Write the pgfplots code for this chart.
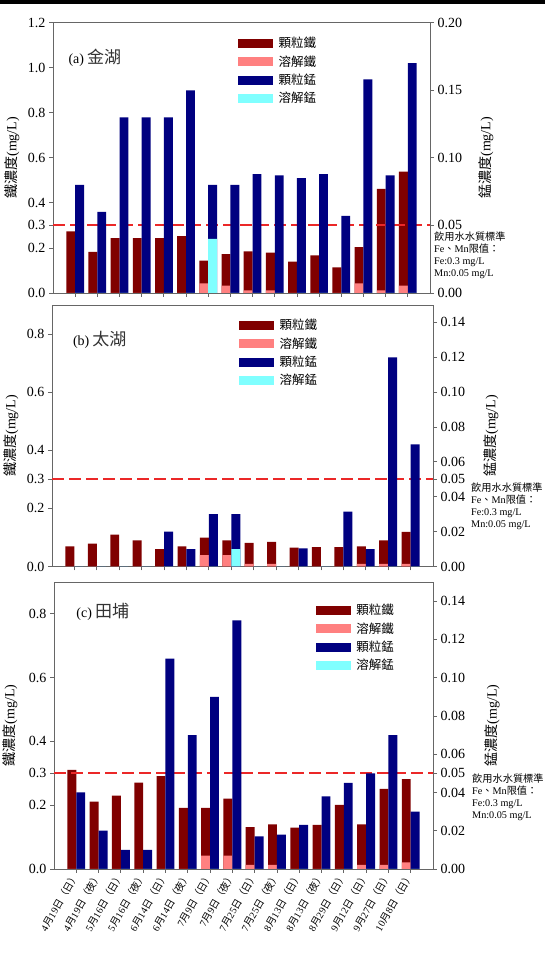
\documentclass[border=0pt]{standalone}
\usepackage{fontspec}
\setmainfont{Liberation Serif}
\newfontfamily\cjk{Noto Sans CJK TC}
\usepackage{pgfplots}
\usepackage{pgfplotstable}
\pgfplotsset{compat=1.18}
\definecolor{feP}{HTML}{800000}
\definecolor{feD}{HTML}{FF8080}
\definecolor{mnP}{HTML}{000080}
\definecolor{mnD}{HTML}{80FFFF}
\definecolor{limred}{RGB}{235,40,40}

% x = sampling (1..16); feT = total Fe (particulate+dissolved), feD = dissolved Fe
% mnT = total Mn, mnD = dissolved Mn
\pgfplotstableread{
x feT feD mnT mnD
1 0.273 0 0.080 0
2 0.182 0 0.060 0
3 0.243 0 0.130 0
4 0.243 0 0.130 0
5 0.243 0 0.130 0
6 0.252 0 0.150 0
7 0.144 0.043 0.080 0.040
8 0.172 0.033 0.080 0
9 0.185 0.012 0.088 0
10 0.179 0.012 0.087 0
11 0.139 0 0.085 0
12 0.167 0 0.088 0
13 0.114 0 0.057 0
14 0.204 0.043 0.158 0
15 0.462 0.012 0.087 0
16 0.539 0.033 0.170 0
}\dataA
\pgfplotstableread{
x feT feD mnT mnD
1 0.069 0 0 0
2 0.079 0 0 0
3 0.110 0 0 0
4 0.090 0 0 0
5 0.060 0 0.020 0
6 0.069 0 0.010 0
7 0.099 0.039 0.030 0
8 0.090 0.039 0.030 0.010
9 0.081 0.009 0 0
10 0.085 0.009 0 0
11 0.065 0 0.0104 0
12 0.067 0 0 0
13 0.067 0 0.0315 0
14 0.069 0.009 0.010 0
15 0.090 0.009 0.120 0
16 0.119 0.009 0.070 0
}\dataB
\pgfplotstableread{
x feT feD mnT mnD
1 0.311 0 0.040 0
2 0.211 0 0.020 0
3 0.230 0 0.010 0
4 0.271 0 0.010 0
5 0.291 0 0.110 0
6 0.192 0 0.070 0
7 0.192 0.042 0.090 0
8 0.221 0.042 0.130 0
9 0.131 0.013 0.017 0
10 0.140 0.013 0.018 0
11 0.130 0 0.023 0
12 0.138 0 0.038 0
13 0.201 0 0.045 0
14 0.140 0.013 0.050 0
15 0.251 0.013 0.070 0
16 0.282 0.021 0.030 0
}\dataC

% limit line (Fe 0.3 mg/L = Mn 0.05 mg/L) endpoints
\pgfplotstableread{
x y
0 0.3
17 0.3
}\limit

\newcommand\xl[3]{#1{\cjk 月}#2{\cjk 日（#3）}}
\newcommand\sw[1]{\addlegendimage{legend image code/.code={\fill[#1] (0bp,-4bp) rectangle (34bp,4bp);}}}

\pgfplotsset{
 base/.style={scale only axis, xmin=0, xmax=17, ymin=0,
   axis line style={black!60, line width=0.8bp},
   tick style={black!60, line width=0.8bp},
   major tick length=4bp, tick align=outside,
   tick label style={font=\fontsize{14bp}{16bp}\selectfont},
   /pgf/number format/assume math mode=true,
   xtick={1,...,16}, xticklabels={}},
 feax/.style={base, ytick pos=left, xtick pos=bottom,
   yticklabel style={/pgf/number format/.cd, fixed, fixed zerofill, precision=1},
   every axis y label/.style={rotate=90, anchor=center, font=\fontsize{14bp}{16bp}\selectfont}},
 mnax/.style={base, axis y line*=right, axis x line=none,
   yticklabel style={/pgf/number format/.cd, fixed, fixed zerofill, precision=2},
   every axis y label/.style={rotate=90, anchor=center, font=\fontsize{14bp}{16bp}\selectfont},
   legend cell align=left,
   legend style={draw=none, fill=none, inner sep=0pt, anchor=north west, font=\cjk\fontsize{12.5bp}{14bp}\selectfont, row sep=2.2bp,
     /tikz/every odd column/.style={column sep=4bp}}},
 fbar/.style={ybar, bar width=0.4, bar shift=0pt, draw=none, forget plot},
}
\tikzset{ttl/.style={anchor=west, font=\fontsize{14bp}{16bp}\selectfont},
  note/.style={anchor=north west, align=left, inner sep=0pt, font=\fontsize{10.2bp}{12bp}\selectfont}}
\newcommand\ttlcjk[1]{\hspace{3bp}{\cjk\fontsize{17bp}{17bp}\selectfont\color{black!80}#1}}
\newcommand\notetext{{\cjk 飲用水水質標準}\\Fe{\cjk 、}Mn{\cjk 限值：}\\Fe:0.3 mg/L\\Mn:0.05 mg/L}
\newcommand\limplot{\addplot[color=limred, line width=2bp, dash pattern=on 12bp off 5bp, forget plot] table[x=x, y=y]{\limit};}

\begin{document}
\begin{tikzpicture}[x=1bp,y=1bp]
\path[use as bounding box] (0,0) rectangle (545,958);
\fill[black] (0,954) rectangle (545,958);

% ---------------- panel a
\begin{axis}[feax, at={(53bp,665bp)}, anchor=south west, width=377bp, height=270.3bp,
  ymax=1.2, ytick={0,0.2,0.3,0.4,0.6,0.8,1.0,1.2}, ylabel={{\cjk 鐵濃度}(mg/L)},
  ylabel style={at={(rel axis cs:-0.1088,0.5)}}]
\addplot[fbar, fill=feP] table[x expr=\thisrow{x}-0.2, y=feT]{\dataA};
\addplot[fbar, fill=feD] table[x expr=\thisrow{x}-0.2, y=feD]{\dataA};
\limplot
\end{axis}
\begin{axis}[mnax, at={(53bp,665bp)}, anchor=south west, width=377bp, height=270.3bp,
  ymax=0.2, ytick={0,0.05,0.1,0.15,0.2}, ylabel={{\cjk 錳濃度}(mg/L)},
  ylabel style={at={(rel axis cs:1.1485,0.5)}},
  legend style={at={(0.491,0.954)}}]
\addplot[fbar, fill=mnP] table[x expr=\thisrow{x}+0.2, y=mnT]{\dataA};
\addplot[fbar, fill=mnD] table[x expr=\thisrow{x}+0.2, y=mnD]{\dataA};
\sw{feP}\sw{feD}\sw{mnP}\sw{mnD}
\legend{顆粒鐵,溶解鐵,顆粒錳,溶解錳}
\node[ttl] at (rel axis cs:0.032,0.869) {(a)\ttlcjk{金湖}};
\end{axis}

% ---------------- panel b
\begin{axis}[feax, at={(52bp,391.5bp)}, anchor=south west, width=381bp, height=261.5bp,
  ymax=0.9, ytick={0,0.2,0.3,0.4,0.6,0.8}, ylabel={{\cjk 鐵濃度}(mg/L)},
  ylabel style={at={(rel axis cs:-0.1076,0.5)}}]
\addplot[fbar, fill=feP] table[x expr=\thisrow{x}-0.2, y=feT]{\dataB};
\addplot[fbar, fill=feD] table[x expr=\thisrow{x}-0.2, y=feD]{\dataB};
\limplot
\end{axis}
\begin{axis}[mnax, at={(52bp,391.5bp)}, anchor=south west, width=381bp, height=261.5bp,
  ymax=0.15, ytick={0,0.02,0.04,0.05,0.06,0.08,0.10,0.12,0.14}, ylabel={{\cjk 錳濃度}(mg/L)},
  ylabel style={at={(rel axis cs:1.152,0.5)}},
  legend style={at={(0.491,0.954)}}]
\addplot[fbar, fill=mnP] table[x expr=\thisrow{x}+0.2, y=mnT]{\dataB};
\addplot[fbar, fill=mnD] table[x expr=\thisrow{x}+0.2, y=mnD]{\dataB};
\sw{feP}\sw{feD}\sw{mnP}\sw{mnD}
\legend{顆粒鐵,溶解鐵,顆粒錳,溶解錳}
\node[ttl] at (rel axis cs:0.046,0.866) {(b)\ttlcjk{太湖}};
\end{axis}

% ---------------- panel c
\begin{axis}[feax, at={(54bp,89bp)}, anchor=south west, width=379bp, height=287bp,
  ymax=0.9, ytick={0,0.2,0.3,0.4,0.6,0.8}, ylabel={{\cjk 鐵濃度}(mg/L)},
  ylabel style={at={(rel axis cs:-0.116,0.5)}},
  xticklabels={\xl{4}{19}{日},\xl{4}{19}{夜},\xl{5}{16}{日},\xl{5}{16}{夜},\xl{6}{14}{日},\xl{6}{14}{夜},\xl{7}{9}{日},\xl{7}{9}{夜},\xl{7}{25}{日},\xl{7}{25}{夜},\xl{8}{13}{日},\xl{8}{13}{夜},\xl{8}{29}{日},\xl{9}{12}{日},\xl{9}{27}{日},\xl{10}{8}{日}},
  xticklabel style={rotate=60, anchor=east, font=\fontsize{10bp}{12bp}\selectfont, inner sep=1bp}]
\addplot[fbar, fill=feP] table[x expr=\thisrow{x}-0.2, y=feT]{\dataC};
\addplot[fbar, fill=feD] table[x expr=\thisrow{x}-0.2, y=feD]{\dataC};
\limplot
\end{axis}
\begin{axis}[mnax, at={(54bp,89bp)}, anchor=south west, width=379bp, height=287bp,
  ymax=0.15, ytick={0,0.02,0.04,0.05,0.06,0.08,0.10,0.12,0.14}, ylabel={{\cjk 錳濃度}(mg/L)},
  ylabel style={at={(rel axis cs:1.156,0.5)}},
  legend style={at={(0.691,0.930)}}]
\addplot[fbar, fill=mnP] table[x expr=\thisrow{x}+0.2, y=mnT]{\dataC};
\addplot[fbar, fill=mnD] table[x expr=\thisrow{x}+0.2, y=mnD]{\dataC};
\sw{feP}\sw{feD}\sw{mnP}\sw{mnD}
\legend{顆粒鐵,溶解鐵,顆粒錳,溶解錳}
\node[ttl] at (rel axis cs:0.05,0.897) {(c)\ttlcjk{田埔}};
\end{axis}

% ---------------- standard notes
\node[note] at (434,726) {\notetext};
\node[note] at (471,475) {\notetext};
\node[note] at (472,184) {\notetext};
\end{tikzpicture}
\end{document}
